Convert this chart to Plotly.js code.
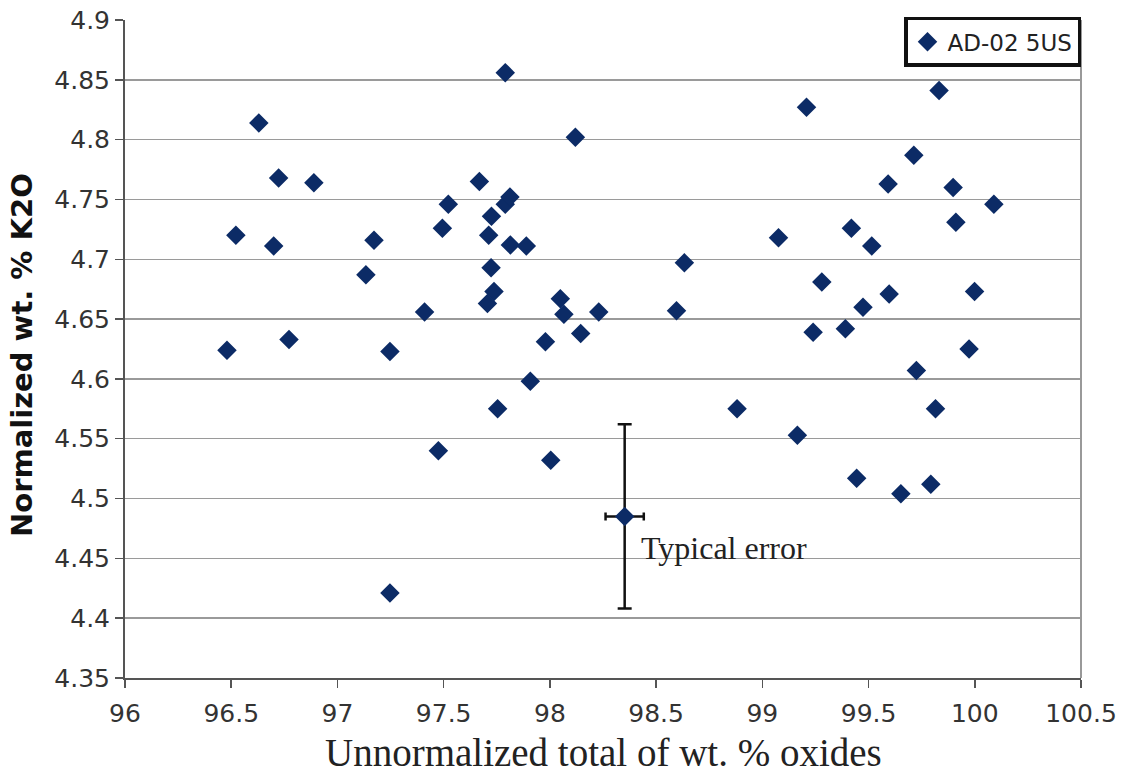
<!DOCTYPE html>
<html>
<head>
<meta charset="utf-8">
<script src="https://cdn.plot.ly/plotly-3.0.1.min.js"></script>
<style>html,body{margin:0;padding:0;background:#fff;}#chart{width:1133px;height:783px;}</style>
</head>
<body>
<div id="chart"></div>
<script>
// Sample AD-02 5US
const seriesName = "AD-02 5US";
const totals = [97.790, 96.630, 96.723, 96.889, 97.668, 97.522, 97.790, 97.812, 97.725, 96.522,
  96.700, 97.494, 97.712, 97.814, 97.889, 97.172, 97.134, 97.723, 97.737, 97.706,
  97.410, 96.480, 96.772, 97.247, 98.120, 99.208, 99.076, 98.633, 99.280, 98.596,
  99.239, 98.049, 98.066, 98.230, 98.145, 97.979, 99.832, 99.713, 99.592, 99.898,
  100.090, 99.911, 99.419, 99.515, 99.597, 99.999, 99.474, 99.391, 99.973, 97.908,
  97.754, 97.475, 97.247, 98.004, 98.881, 99.165, 99.725, 99.815, 99.444, 99.652,
  99.793];
const k2o = [4.856, 4.814, 4.768, 4.764, 4.765, 4.746, 4.746, 4.752, 4.736, 4.720,
  4.711, 4.726, 4.720, 4.712, 4.711, 4.716, 4.687, 4.693, 4.673, 4.663,
  4.656, 4.624, 4.633, 4.623, 4.802, 4.827, 4.718, 4.697, 4.681, 4.657,
  4.639, 4.667, 4.654, 4.656, 4.638, 4.631, 4.841, 4.787, 4.763, 4.760,
  4.746, 4.731, 4.726, 4.711, 4.671, 4.673, 4.660, 4.642, 4.625, 4.598,
  4.575, 4.540, 4.421, 4.532, 4.575, 4.553, 4.607, 4.575, 4.517, 4.504,
  4.512];
// Typical error marker
const errX = [98.352];
const errY = [4.485];
const errXSize = [0.09];
const errYSize = [0.077];
const errLabel = "Typical error";

const xTitle = 'Unnormalized total of wt. % oxides';
const yTitle = 'Normalized wt. % K2O';
const xTicks = [96, 96.5, 97, 97.5, 98, 98.5, 99, 99.5, 100, 100.5];
const yTicks = [4.35, 4.4, 4.45, 4.5, 4.55, 4.6, 4.65, 4.7, 4.75, 4.8, 4.85, 4.9];

const navy = '#0c2b66';

const traces = [
  {
    type: 'scatter', mode: 'markers', name: seriesName,
    x: totals, y: k2o,
    marker: {symbol: 'diamond', size: 15, color: navy}
  },
  {
    type: 'scatter', mode: 'markers', showlegend: false,
    x: errX, y: errY,
    marker: {symbol: 'diamond', size: 15, color: navy},
    error_x: {type: 'data', array: errXSize, visible: true, color: '#111', thickness: 2.5, width: 4},
    error_y: {type: 'data', array: errYSize, visible: true, color: '#111', thickness: 2.5, width: 7}
  }
];

const layout = {
  width: 1133, height: 783,
  margin: {l: 125, r: 52, t: 20, b: 105},
  paper_bgcolor: '#fff', plot_bgcolor: '#fff',
  showlegend: true,
  legend: {
    x: 1, xanchor: 'right', y: 1.005, yanchor: 'top',
    bordercolor: '#111', borderwidth: 3.5, bgcolor: '#fff',
    font: {family: 'DejaVu Sans', size: 23, color: '#222'},
    itemwidth: 30
  },
  xaxis: {
    range: [96, 100.5], tickmode: 'array', tickvals: xTicks,
    ticktext: xTicks.map(String),
    showgrid: false, zeroline: false,
    showline: true, linecolor: '#555', linewidth: 2, mirror: false,
    ticks: 'outside', ticklen: 8, tickcolor: '#555', tickwidth: 1.5,
    ticklabelstandoff: 4,
    tickfont: {family: 'DejaVu Sans', size: 25, color: '#333'}
  },
  yaxis: {
    range: [4.35, 4.9], tickmode: 'array', tickvals: yTicks,
    ticktext: yTicks.map(String),
    showgrid: true, gridcolor: '#9a9a9a', gridwidth: 1.5, zeroline: false,
    showline: true, linecolor: '#555', linewidth: 2,
    ticks: 'outside', ticklen: 8, tickcolor: '#555', tickwidth: 1.5,
    tickfont: {family: 'DejaVu Sans', size: 25, color: '#333'}
  },
  shapes: [
    {type: 'line', xref: 'paper', yref: 'paper', x0: 1, x1: 1, y0: 0, y1: 1, line: {color: '#999', width: 2}}
  ],
  annotations: [
    {x: errX[0], y: errY[0], xref: 'x', yref: 'y', text: errLabel, showarrow: false,
     xanchor: 'left', yanchor: 'middle', xshift: 14, yshift: -32,
     font: {family: 'Liberation Serif', size: 32, color: '#222'}},
    {x: 0.5, y: -0.113, xref: 'paper', yref: 'paper', text: xTitle, showarrow: false,
     xanchor: 'center', yanchor: 'middle',
     font: {family: 'Liberation Serif', size: 39, color: '#222'}},
    {x: -0.1077, y: 0.491, xref: 'paper', yref: 'paper', text: yTitle, showarrow: false,
     textangle: -90, xanchor: 'center', yanchor: 'middle',
     font: {family: 'DejaVu Sans', size: 29, color: '#111', weight: 'bold'}}
  ]
};

Plotly.newPlot('chart', traces, layout, {displayModeBar: false, staticPlot: true});
</script>
</body>
</html>
